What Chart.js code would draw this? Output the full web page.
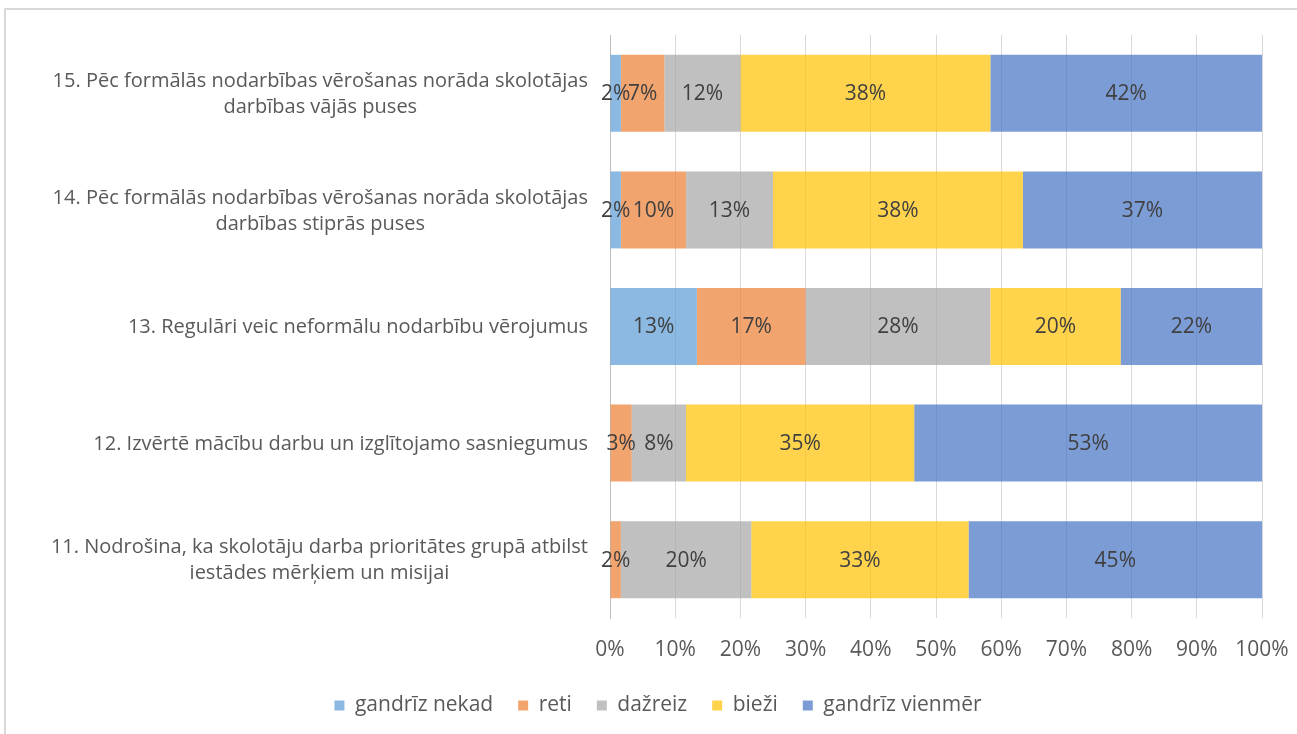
<!DOCTYPE html>
<html>
<head>
<meta charset="utf-8">
<script src="https://cdn.jsdelivr.net/npm/chart.js@4/dist/chart.umd.min.js"></script>
<style>
  html, body { margin: 0; padding: 0; background: #ffffff; }
  #wrap { width: 1297px; height: 734px; position: relative; }
</style>
</head>
<body>
<div id="wrap"><canvas id="c"></canvas></div>
<script>
const categories = [
  ["15. Pēc formālās nodarbības vērošanas norāda skolotājas", "darbības vājās puses"],
  ["14. Pēc formālās nodarbības vērošanas norāda skolotājas", "darbības stiprās puses"],
  ["13. Regulāri veic neformālu nodarbību vērojumus"],
  ["12. Izvērtē mācību darbu un izglītojamo sasniegumus"],
  ["11. Nodrošina, ka skolotāju darba prioritātes grupā atbilst", "iestādes mērķiem un misijai"]
];
const seriesNames = ["gandrīz nekad", "reti", "dažreiz", "bieži", "gandrīz vienmēr"];
const gandrizNekad   = [1.67, 1.67, 13.33, 0, 0];
const reti           = [6.67, 10.00, 16.67, 3.33, 1.67];
const dazreiz        = [11.67, 13.33, 28.33, 8.33, 20.00];
const biezi          = [38.33, 38.33, 20.00, 35.00, 33.33];
const gandrizVienmer = [41.66, 36.67, 21.67, 53.34, 45.00];
const tickValues = [0, 10, 20, 30, 40, 50, 60, 70, 80, 90, 100];

const seriesValues = [gandrizNekad, reti, dazreiz, biezi, gandrizVienmer];
const seriesColors = [
  'rgba(91,155,213,0.7)',
  'rgba(237,125,49,0.7)',
  'rgba(165,165,165,0.7)',
  'rgba(255,192,0,0.7)',
  'rgba(68,114,196,0.7)'
];

const FONT = "'Open Sans', 'Liberation Sans', sans-serif";
const FS_CAT = 20;
const FS_TICK = 21;
const FS_DATA = 21;
const FS_LEG = 21;
const PAD_L = 54;
const PLOT_LEFT = 610;

const borderPlugin = {
  id: 'outerBorder',
  beforeDraw(chart) {
    const ctx = chart.ctx;
    ctx.save();
    ctx.strokeStyle = '#D9D9D9';
    ctx.lineWidth = 2;
    ctx.strokeRect(5, 9, 1400, 900);
    ctx.restore();
  }
};

const yLabelPlugin = {
  id: 'yLabels',
  afterDraw(chart) {
    const ctx = chart.ctx;
    const ys = chart.scales.y;
    const rightEdge = chart.chartArea.left - 22;
    const lh = 26;
    ctx.save();
    ctx.font = FS_CAT + "px " + FONT;
    ctx.fillStyle = '#595959';
    ctx.textBaseline = 'middle';
    ctx.textAlign = 'center';
    categories.forEach((lines, i) => {
      const yc = ys.getPixelForTick(i) + 1;
      let maxW = 0;
      lines.forEach(l => { maxW = Math.max(maxW, ctx.measureText(l).width); });
      const cx = rightEdge - maxW / 2;
      const y0 = yc - (lines.length - 1) * lh / 2;
      lines.forEach((l, k) => ctx.fillText(l, cx, y0 + k * lh));
    });
    ctx.restore();
  }
};

const dataLabelPlugin = {
  id: 'dataLabels',
  afterDatasetsDraw(chart) {
    const ctx = chart.ctx;
    ctx.save();
    ctx.font = FS_DATA + "px " + FONT;
    ctx.fillStyle = '#404040';
    ctx.textAlign = 'center';
    ctx.textBaseline = 'middle';
    chart.data.datasets.forEach((ds, di) => {
      const meta = chart.getDatasetMeta(di);
      meta.data.forEach((el, i) => {
        const v = ds.data[i];
        if (!v) return;
        const cx = (el.x + el.base) / 2;
        ctx.fillText(Math.round(v) + '%', cx, el.y + 1);
      });
    });
    ctx.restore();
  }
};

new Chart(document.getElementById('c'), {
  type: 'bar',
  data: {
    labels: categories.map(l => l.join(' ')),
    datasets: seriesNames.map((n, i) => ({
      label: n,
      data: seriesValues[i],
      backgroundColor: seriesColors[i],
      borderWidth: 0,
      barPercentage: 0.66,
      categoryPercentage: 1.0
    }))
  },
  options: {
    indexAxis: 'y',
    responsive: true,
    maintainAspectRatio: false,
    animation: false,
    layout: { padding: { left: PAD_L, top: 35, right: 35, bottom: 8 } },
    scales: {
      x: {
        stacked: true,
        min: 0,
        max: 100,
        afterBuildTicks(scale) { scale.ticks = tickValues.map(v => ({ value: v })); },
        afterFit(scale) { scale.height = 52; scale.paddingRight = 0; scale.paddingLeft = 0; },
        grid: { color: '#D9D9D9', lineWidth: 1, drawTicks: false },
        border: { display: false },
        ticks: {
          padding: 19,
          color: '#595959',
          font: { family: FONT, size: FS_TICK },
          callback: v => v + '%'
        }
      },
      y: {
        stacked: true,
        afterFit(scale) { scale.width = PLOT_LEFT - PAD_L; },
        grid: { display: false },
        border: { display: true, color: '#BFBFBF', width: 1 },
        ticks: { display: false }
      }
    },
    plugins: {
      legend: {
        position: 'bottom',
        labels: {
          boxWidth: 10,
          boxHeight: 10,
          padding: 25,
          color: '#595959',
          font: { family: FONT, size: FS_LEG }
        }
      },
      tooltip: { enabled: false }
    }
  },
  plugins: [borderPlugin, yLabelPlugin, dataLabelPlugin]
});
</script>
</body>
</html>
